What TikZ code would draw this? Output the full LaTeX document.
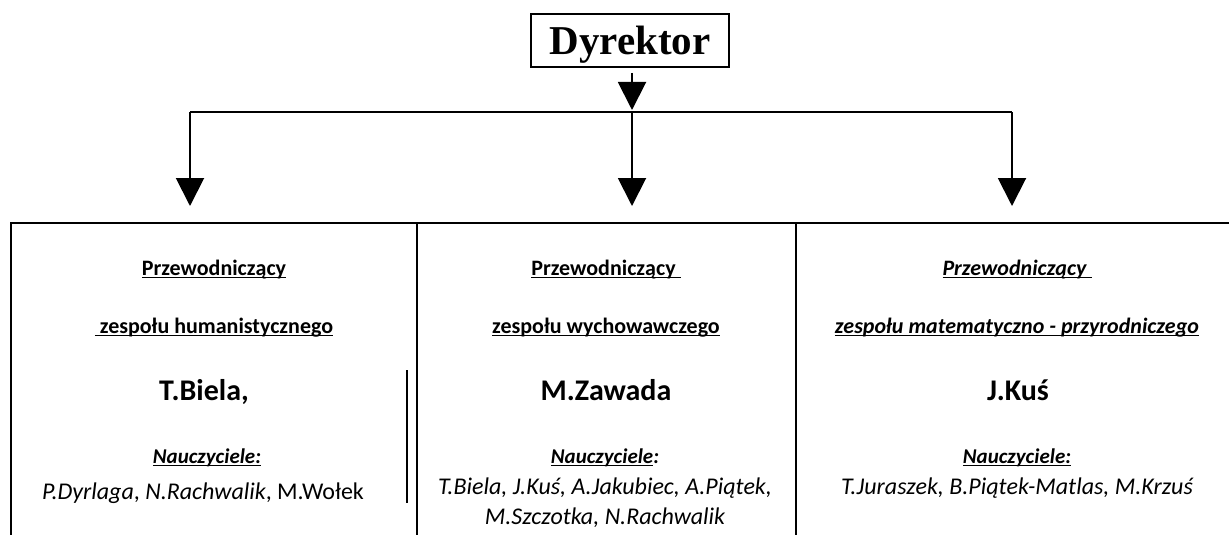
\documentclass[tikz,border=0pt]{standalone}
\usepackage{fontspec}
\setmainfont{Carlito}
\newfontfamily\tnr{Liberation Serif}
\usetikzlibrary{arrows.meta}
\newcommand\ulin[1]{\setbox0\hbox{#1}\leavevmode\rlap{\vrule height -1.7pt depth 3.0pt width\wd0}\box0}
\begin{document}
\begin{tikzpicture}[x=1pt,y=-1pt,
  colbox/.style={draw, line width=1.6pt, minimum height=340pt, inner sep=0pt, anchor=north},
  dirbox/.style={draw, line width=1.6pt, minimum width=198pt, minimum height=53pt, inner sep=0pt,
     text height=34pt, text depth=5pt, font=\tnr\fontsize{41}{45}\selectfont\bfseries},
  conn/.style={line width=2pt, -{Triangle[width=28pt,length=28pt]}},
  hline/.style={line width=1.6pt},
  hd/.style={anchor=base, inner sep=0pt, font=\fontsize{22}{26}\selectfont\bfseries},
  nc/.style={anchor=base, inner sep=0pt, font=\fontsize{21}{25}\selectfont\bfseries},
  nm/.style={anchor=base, inner sep=0pt, font=\fontsize{30}{34}\selectfont\bfseries},
  tl/.style={anchor=base, inner sep=0pt, font=\fontsize{24}{28}\selectfont}]
\useasboundingbox (0,0) rectangle (1229,535);
% director
\node[dirbox] (dyr) at (630,40.5) {Dyrektor};
% column boxes
\node[colbox, minimum width=406pt] (b1) at (214,222) {};
\node[colbox, minimum width=379pt] (b2) at (606.5,222) {};
\node[colbox, minimum width=444pt] (b3) at (1018,222) {};
% junctions
\coordinate (j1) at (190,112);
\coordinate (j2) at (632,112);
\coordinate (j3) at (1012,112);
\draw[hline] (j1) -- (j3);
\draw[conn, shorten <=5pt, shorten >=2pt] (dyr.south -| j2) -- (j2);
\draw[conn, shorten >=16pt] (j1) -- (j1 |- b1.north);
\draw[conn, shorten >=16pt] (j2) -- (j2 |- b2.north);
\draw[conn, shorten >=16pt] (j3) -- (j3 |- b3.north);
% inner short line
\draw[line width=1.6pt] (407,370) -- (407,503);
% left column
\node[hd] (p1) at (214,275) {\ulin{Przewodniczący}};
\node[hd] (z1) at (214,333) {\ulin{\ zespołu humanistycznego}};
\node[nm] (n1) at (204,400) {T.Biela,};
\node[nc] (u1) at (207,463) {\ulin{\itshape Nauczyciele:}};
\node[tl] (t1) at (203,499) {\textit{P.Dyrlaga}, \textit{N.Rachwalik}, M.Wołek};
% middle column
\node[hd] (p2) at (606,275) {\ulin{Przewodniczący\ }};
\node[hd] (z2) at (606,333) {\ulin{zespołu wychowawczego}};
\node[nm] (n2) at (606,400) {M.Zawada};
\node[nc] (u2) at (605,463) {\ulin{\itshape Nauczyciele}\textit{:}};
\node[tl] (t2) at (605,494) {\itshape T.Biela, J.Kuś, A.Jakubiec, A.Piątek,};
\node[tl] (t2b) at (605,524) {\itshape M.Szczotka, N.Rachwalik};
% right column
\node[hd] (p3) at (1017,275) {\ulin{\itshape Przewodniczący\ }};
\node[hd] (z3) at (1017,333) {\ulin{\itshape zespołu matematyczno - przyrodniczego}};
\node[nm] (n3) at (1018,400) {J.Kuś};
\node[nc] (u3) at (1017,463) {\ulin{\itshape Nauczyciele:}};
\node[tl] (t3) at (1017,494) {\itshape T.Juraszek, B.Piątek-Matlas, M.Krzuś};
\end{tikzpicture}
\end{document}
